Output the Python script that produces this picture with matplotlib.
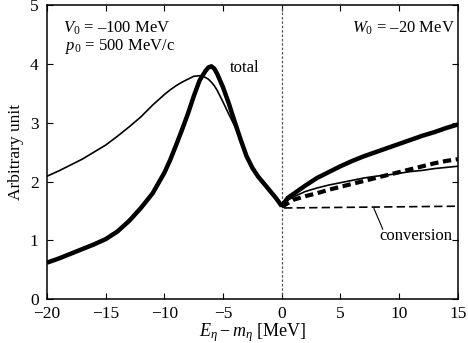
import numpy as np
import matplotlib.pyplot as plt

plt.rcParams['font.family'] = ['Liberation Serif', 'DejaVu Serif']
plt.rcParams['mathtext.fontset'] = 'custom'
plt.rcParams['mathtext.rm'] = 'Liberation Serif'
plt.rcParams['mathtext.it'] = 'Liberation Serif:italic'

# below threshold (x < 0)
x_left = [-20, -19, -18, -17, -16, -15, -14, -13, -12, -11, -10, -9.5, -9, -8.5, -8,
          -7.5, -7, -6.5, -6.25, -6, -5.75, -5.5, -5, -4.5, -4, -3.5, -3, -2.5, -2, -1.5, -1, -0.5, 0]
total_left = [0.62, 0.69, 0.77, 0.85, 0.93, 1.02, 1.15, 1.33, 1.55, 1.80, 2.15, 2.37, 2.62, 2.88, 3.15,
              3.45, 3.72, 3.88, 3.94, 3.96, 3.92, 3.83, 3.60, 3.32, 3.01, 2.71, 2.43, 2.23, 2.08, 1.96, 1.84, 1.72, 1.58]
thin_left = [2.09, 2.18, 2.28, 2.38, 2.50, 2.62, 2.77, 2.93, 3.10, 3.30, 3.48, 3.56, 3.63, 3.69, 3.74,
             3.79, 3.80, 3.77, 3.74, 3.69, 3.63, 3.55, 3.35, 3.14, 2.94, 2.70, 2.43, 2.23, 2.08, 1.96, 1.84, 1.72, 1.58]

# above threshold (x > 0)
x_right = [0, 0.5, 1, 2, 3, 4, 5, 6, 7, 8, 9, 10, 11, 12, 13, 14, 15]
total_right = [1.58, 1.72, 1.79, 1.93, 2.06, 2.16, 2.26, 2.35, 2.43, 2.50, 2.57, 2.64, 2.71, 2.78, 2.84, 2.91, 2.97]
thin_right = [1.58, 1.68, 1.74, 1.83, 1.89, 1.94, 1.98, 2.02, 2.06, 2.09, 2.11, 2.14, 2.17, 2.19, 2.22, 2.24, 2.26]
dash_right = [1.57, 1.63, 1.69, 1.75, 1.80, 1.86, 1.91, 1.96, 2.01, 2.06, 2.11, 2.16, 2.21, 2.26, 2.31, 2.35, 2.38]
x_conv = [0.2, 15]
conversion = [1.55, 1.58]

fig = plt.figure(figsize=(4.68, 3.43), dpi=100)
ax = fig.add_axes([0.1004, 0.128, 0.878, 0.857])

ax.axvline(0, color='#555555', lw=0.9, ls=(0, (2, 1.5)))
ax.plot(x_left, thin_left, color='black', lw=1.2)
ax.plot(x_left, total_left, color='black', lw=3.2, solid_capstyle='butt')
ax.plot(x_right, thin_right, color='black', lw=1.2)
ax.plot(x_right, total_right, color='black', lw=3.2, solid_capstyle='butt')
ax.plot(x_right, dash_right, color='black', lw=3.0, ls=(0, (2.0, 1.1)))
ax.plot(x_conv, conversion, color='black', lw=1.2, ls=(0, (5, 2.5)))

ax.set_xlim(-20, 15)
ax.set_ylim(0, 5)
ax.set_xticks(np.arange(-20, 16, 5))
ax.set_yticks(np.arange(0, 6, 1))
ax.tick_params(direction='in', top=True, right=True, length=4, width=0.8, labelsize=12.5, pad=5)
ax.tick_params(axis='y', pad=6)
for s in ax.spines.values():
    s.set_linewidth(1.1)

ax.set_xlabel(r'$E_\eta - m_\eta$ [MeV]', fontsize=13, labelpad=-1)
ax.set_ylabel('Arbitrary unit', fontsize=12.5, labelpad=4)

ax.text(-18.6, 4.6, r'$V_0$ = –100 MeV', fontsize=12, va='center')
ax.text(-18.5, 4.3, r'$p_0$ = 500 MeV/c', fontsize=12, va='center')
ax.text(6.0, 4.6, r'$W_0$ = –20 MeV', fontsize=12, va='center')
ax.text(-4.4, 3.93, 'total', fontsize=12, va='center')
ax.text(8.3, 1.07, 'conversion', fontsize=12, va='center')
ax.plot([7.85, 8.6], [1.54, 1.19], color='black', lw=0.8)

fig.savefig('out.png', dpi=100)
